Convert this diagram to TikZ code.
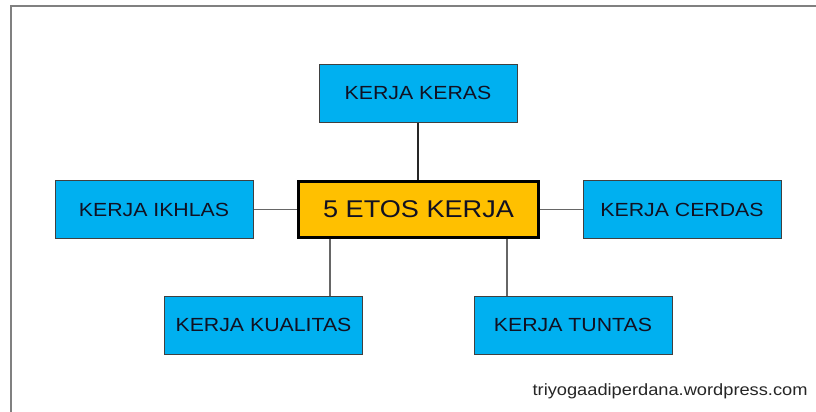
\documentclass[tikz,border=0pt]{standalone}
\usepackage{fontspec}
\setmainfont[FakeStretch=1.12]{Liberation Sans}
\usepackage{tikz}
\usetikzlibrary{positioning, calc}

\definecolor{etosblue}{HTML}{00B0F0}
\definecolor{etosgold}{HTML}{FFC000}
\definecolor{framegray}{HTML}{808080}
\definecolor{etostext}{HTML}{111122}

\tikzset{
	sidebox/.style={draw=black!75, line width=0.5pt, fill=etosblue, minimum width=99pt, minimum height=29pt, inner sep=0pt, text=etostext, font=\fontsize{9.5pt}{11pt}\selectfont},
	mainbox/.style={draw=black, line width=1.5pt, fill=etosgold, minimum width=120pt, minimum height=28pt, inner sep=0pt, text=etostext, font=\fontsize{12.1pt}{14pt}\selectfont},
	link/.style={draw=black!60, line width=0.6pt}
}

\begin{document}
\begin{tikzpicture}[x=0.5pt, y=-0.5pt]
			\useasboundingbox (0,0) rectangle (816,412);
			\fill[white] (0,0) rectangle (816,412);
			
			% frame
			\draw[framegray, line width=1pt] (11,412) -- (11,6) -- (816,6);
			
			\node[mainbox] (etos) at (418.5,209.5) {5 ETOS KERJA};
			
			\node[sidebox] (keras) at (418,93) {KERJA KERAS};
			\node[sidebox] (ikhlas) at (154,209.5) {KERJA IKHLAS};
			\node[sidebox] (cerdas) at (682,209.5) {KERJA CERDAS};
			\node[sidebox] (kualitas) at (263.5,325) {KERJA KUALITAS};
			\node[sidebox] (tuntas) at (573,325) {KERJA TUNTAS};
			
			\draw[link, draw=black!85] (keras.south) -- (etos.north -| keras.south);
			\draw[link] (ikhlas.east) -- (etos.west);
			\draw[link] (etos.east) -- (cerdas.west);
			
			\coordinate (kl) at ($(etos.south west)+(33,0)$);
			\coordinate (tn) at ($(etos.south east)+(-33,0)$);
			\draw[link] (kl) -- (kl |- kualitas.north);
			\draw[link] (tn) -- (tn |- tuntas.north);
			
			\node[anchor=base east, inner sep=0pt, font=\fontsize{8.15pt}{10pt}\selectfont, text=black!85] (web) at (808,395) {triyogaadiperdana.wordpress.com};
\end{tikzpicture}
\end{document}
